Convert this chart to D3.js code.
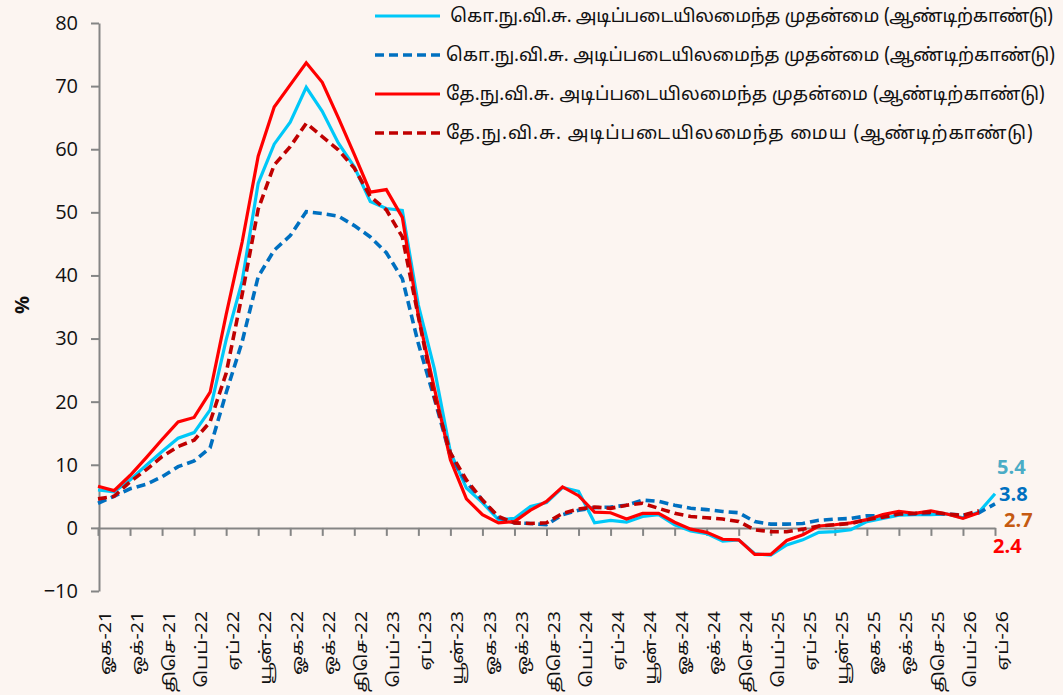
<!DOCTYPE html>
<html><head><meta charset="utf-8">
<script src="https://cdn.jsdelivr.net/npm/d3@7"></script>
<style>
body{margin:0;background:#fcf5f1;}
svg{display:block;}
</style>
</head><body>
<svg id="chart" width="1063" height="695"></svg>
<script>
// ---- DATA ----
const months = [
 "ஓக-21","செப்-21","ஒக்-21","நவ-21","திசெ-21",
 "ஜன-22","பெப்-22","மார்-22","ஏப்-22","மே-22","யூன்-22","யூல்-22","ஓக-22","செப்-22","ஒக்-22","நவ-22","திசெ-22",
 "ஜன-23","பெப்-23","மார்-23","ஏப்-23","மே-23","யூன்-23","யூல்-23","ஓக-23","செப்-23","ஒக்-23","நவ-23","திசெ-23",
 "ஜன-24","பெப்-24","மார்-24","ஏப்-24","மே-24","யூன்-24","யூல்-24","ஓக-24","செப்-24","ஒக்-24","நவ-24","திசெ-24",
 "ஜன-25","பெப்-25","மார்-25","ஏப்-25","மே-25","யூன்-25","யூல்-25","ஓக-25","செப்-25","ஒக்-25","நவ-25","திசெ-25",
 "ஜன-26","பெப்-26","மார்-26","ஏப்-26"
];
const ccpiHeadline = [6.0,5.7,7.6,9.9,12.1, 14.2,15.1,18.7,29.8,39.1,54.6,60.8,64.3,69.8,66.0,61.0,57.2,
 51.7,50.6,50.3,35.3,25.2,12.0,6.3,4.0,1.3,1.5,3.4,4.0,
 6.4,5.8,0.8,1.2,0.9,1.8,2.1,0.5,-0.5,-0.9,-2.1,-1.9,
 -4.1,-4.3,-2.7,-1.9,-0.7,-0.6,-0.3,1.0,1.5,2.0,2.1,2.1,
 2.2,1.6,2.5,5.4];
const ccpiCore = [3.9,5.0,6.2,6.9,8.1, 9.7,10.6,12.7,21.4,29.5,39.8,44.0,46.3,50.1,49.8,49.4,47.9,
 46.1,43.6,39.5,29.2,20.5,11.3,7.2,4.4,1.6,0.8,0.7,0.5,
 2.1,2.8,3.2,3.3,3.6,4.4,4.2,3.6,3.1,2.9,2.6,2.4,
 1.0,0.6,0.6,0.7,1.2,1.4,1.5,1.9,1.9,2.2,2.2,2.3,
 2.2,2.0,2.4,3.8];
const ncpiHeadline = [6.6,5.9,8.3,11.1,14.0, 16.8,17.5,21.5,33.8,45.3,58.9,66.7,70.2,73.7,70.6,65.0,59.2,
 53.2,53.6,49.2,33.6,22.1,10.8,4.6,2.1,0.8,1.0,2.8,4.2,
 6.5,5.1,2.5,2.4,1.4,2.3,2.3,0.9,-0.2,-0.7,-1.8,-1.9,
 -4.2,-4.2,-2.0,-1.1,0.3,0.5,0.8,1.3,2.1,2.6,2.3,2.7,
 2.2,1.5,2.4,null];
const ncpiCore = [4.6,5.0,7.3,9.2,11.3, 12.9,13.9,16.8,24.5,37.0,50.5,57.5,60.4,64.1,62.0,59.9,57.0,
 52.5,50.4,46.1,33.5,20.8,11.9,7.6,4.4,1.8,0.8,0.7,0.8,
 2.3,3.0,3.3,3.1,3.6,3.9,3.1,2.3,1.8,1.6,1.4,1.0,
 -0.3,-0.6,-0.6,-0.2,0.3,0.5,0.7,1.3,1.7,2.2,2.3,2.5,
 2.2,2.0,2.7,null];
const yTicks = [-10,0,10,20,30,40,50,60,70,80];
const legendLabels = [
 "கொ.நு.வி.சு. அடிப்படையிலமைந்த முதன்மை (ஆண்டிற்காண்டு)",
 "கொ.நு.வி.சு. அடிப்படையிலமைந்த முதன்மை (ஆண்டிற்காண்டு)",
 "தே.நு.வி.சு. அடிப்படையிலமைந்த முதன்மை (ஆண்டிற்காண்டு)",
 "தே.நு.வி.சு. அடிப்படையிலமைந்த மைய (ஆண்டிற்காண்டு)"
];
const endLabels = ["5.4","3.8","2.7","2.4"];
const yTitle = "%";

// ---- STYLE ----
const seriesDefs = [
 {data: ccpiHeadline, color:"#00c8f8", dash:null, width:3.2},
 {data: ccpiCore, color:"#0070c0", dash:"9,5", width:3.6},
 {data: ncpiHeadline, color:"#ff0000", dash:null, width:3.2},
 {data: ncpiCore, color:"#c00000", dash:"9,5", width:3.6}
];
const endStyles = [
 {color:"#4bacc6", x:997, y:474},
 {color:"#0070c0", x:999, y:501},
 {color:"#c55a11", x:1004, y:527},
 {color:"#ff0000", x:993, y:553}
];
const legendLayout = [
 {y:16, tx:450, end:1053},
 {y:55, tx:446, end:1055},
 {y:94, tx:446, end:1045},
 {y:133, tx:446, end:1033}
];
const tamilFont = "'Noto Sans Tamil','Latha','Nirmala UI','Noto Sans','DejaVu Sans',sans-serif";
const numFont = "'Open Sans','Liberation Sans',sans-serif";

const svg = d3.select("#chart");
svg.append("rect").attr("width",1063).attr("height",695).attr("fill","#fcf5f1");

const x = d3.scaleLinear().domain([0, months.length-1]).range([98, 995]);
const y = d3.scaleLinear().domain([-10, 80]).range([591, 23]);

// Y axis
const yAxis = svg.append("g").attr("transform","translate(99,0)")
  .call(d3.axisLeft(y).tickValues(yTicks).tickSize(8).tickPadding(13).tickSizeOuter(0));
yAxis.select(".domain").attr("stroke","#858585").attr("stroke-width",2);
yAxis.selectAll(".tick line").attr("stroke","#858585").attr("stroke-width",2);
yAxis.selectAll(".tick text").attr("font-family",numFont).attr("font-size",20).attr("fill","#111");

// X axis at zero
const xAxis = svg.append("g").attr("transform",`translate(0,${y(0)})`)
  .call(d3.axisBottom(x).tickValues(d3.range(0, months.length, 2)).tickSize(8).tickSizeOuter(0).tickFormat(""));
xAxis.select(".domain").attr("stroke","#858585").attr("stroke-width",2);
xAxis.selectAll(".tick line").attr("stroke","#858585").attr("stroke-width",2);

// X labels (rotated)
svg.append("g").selectAll("text")
  .data(d3.range(0, months.length, 2))
  .join("text")
  .attr("transform", i => `translate(${x(i)+7.5},611) rotate(-90) scale(1.22,1)`)
  .attr("text-anchor","end")
  .attr("dy","0.35em")
  .attr("font-family",tamilFont)
  .attr("font-size",16)
  .attr("fill","#111")
  .text(i => months[i]);

// Y title
svg.append("text").attr("transform","translate(22,305) rotate(-90)")
  .attr("text-anchor","middle").attr("dy","0.35em")
  .attr("font-family",numFont).attr("font-weight","bold").attr("font-size",20)
  .attr("fill","#111").text(yTitle);

// Lines
const line = d3.line().defined(d => d != null).x((d,i) => x(i)).y(d => y(d));
seriesDefs.forEach(s => {
  svg.append("path").datum(s.data)
    .attr("fill","none").attr("stroke",s.color).attr("stroke-width",s.width)
    .attr("stroke-dasharray",s.dash).attr("stroke-linejoin","miter")
    .attr("d", line);
});

// End labels
endLabels.forEach((t,k) => {
  svg.append("text").attr("x",endStyles[k].x).attr("y",endStyles[k].y)
    .attr("font-family",numFont).attr("font-weight","bold").attr("font-size",20)
    .attr("fill",endStyles[k].color).text(t);
});

// Legend
legendLabels.forEach((t,k) => {
  const s = seriesDefs[k], L = legendLayout[k];
  svg.append("line").attr("x1",375).attr("x2",440).attr("y1",L.y).attr("y2",L.y)
    .attr("stroke",s.color).attr("stroke-width",s.width).attr("stroke-dasharray",s.dash);
  svg.append("text").attr("x", L.tx).attr("y",L.y).attr("dy","0.35em")
    .attr("font-family",tamilFont).attr("font-size",18.5).attr("fill","#111")
    .attr("textLength", L.end - L.tx).attr("lengthAdjust","spacing")
    .text(t);
});
</script>
</body></html>
